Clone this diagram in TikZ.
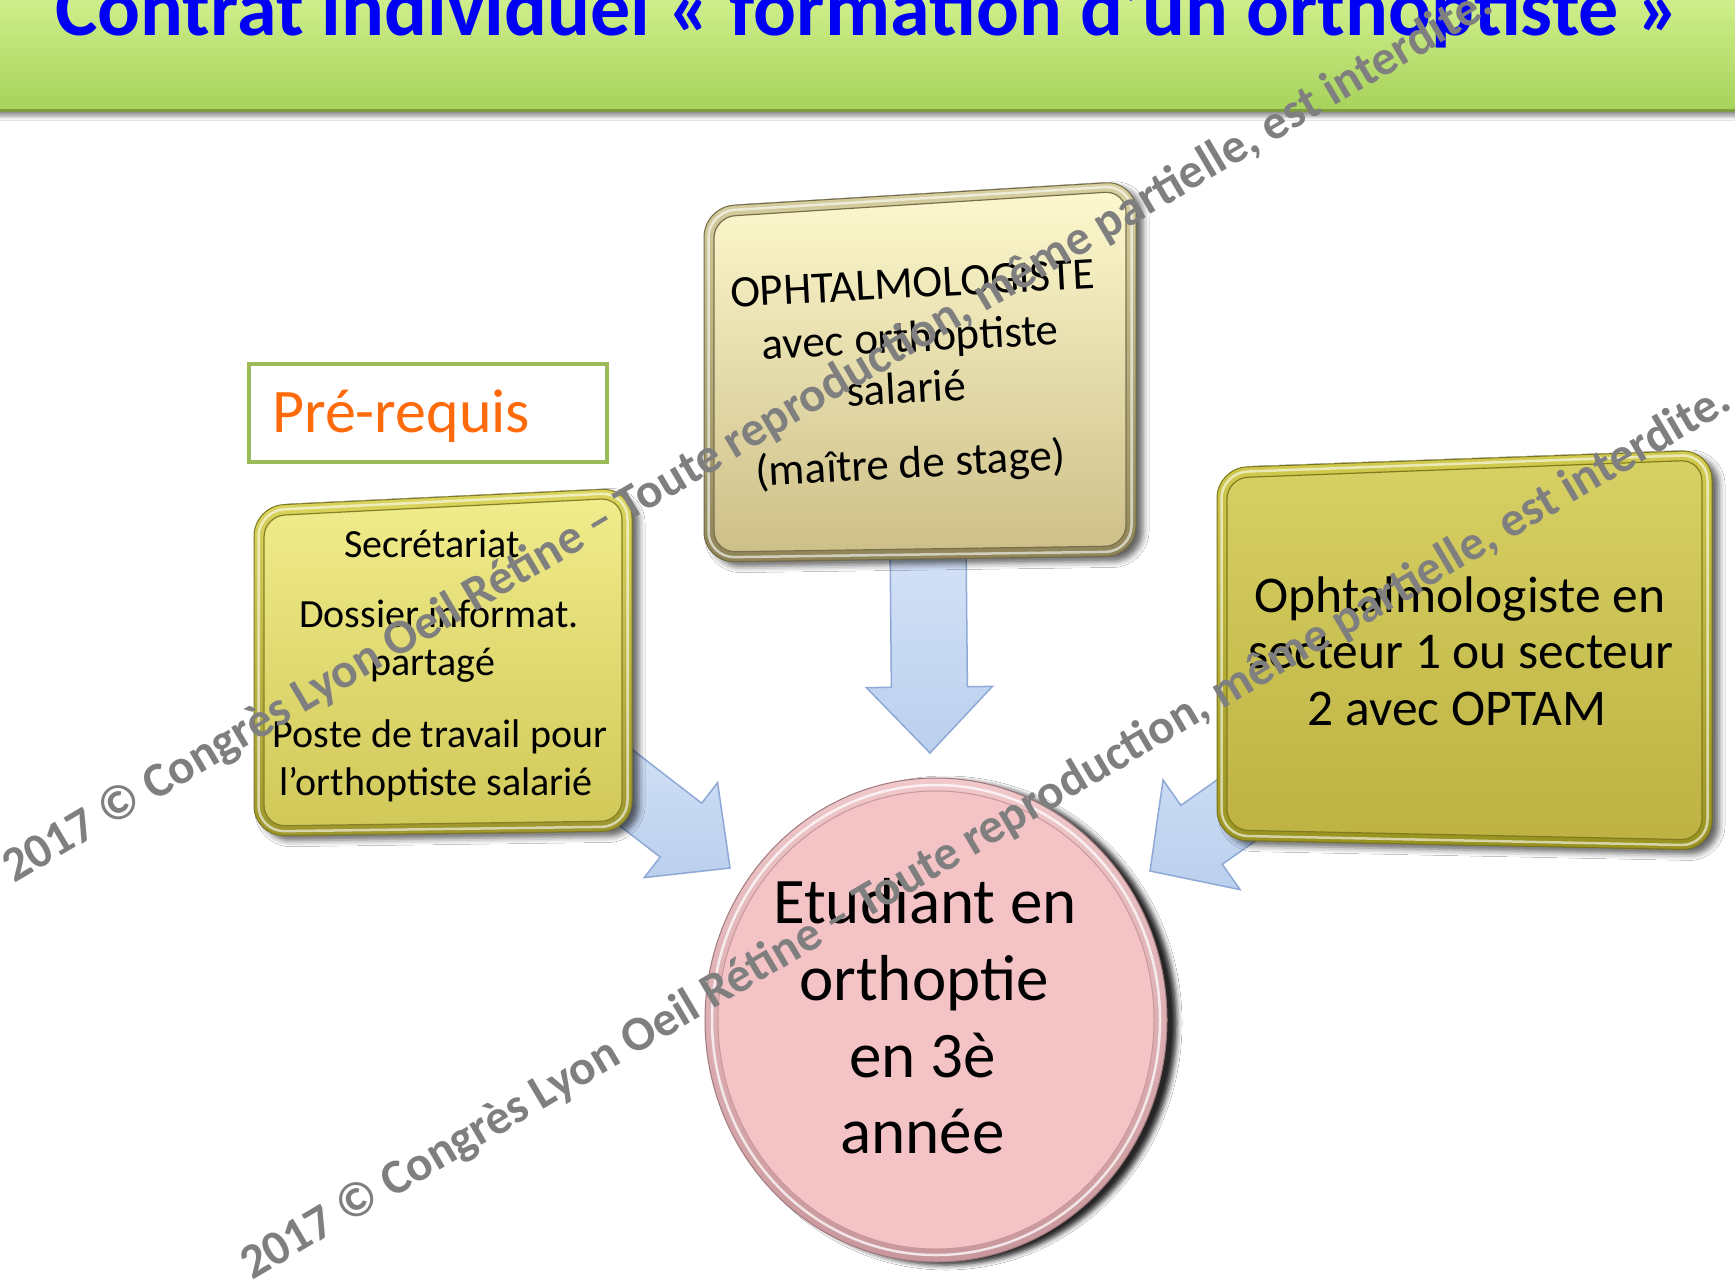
\documentclass[tikz,border=0pt]{standalone}
\usepackage{fontspec}
\setmainfont{Carlito}
\usetikzlibrary{calc,shadows.blur}
\definecolor{titleblue}{HTML}{0000F5}
\definecolor{bannertop}{HTML}{D6F394}
\definecolor{bannerbot}{HTML}{A6D25A}
\definecolor{bannerline}{HTML}{7E9D42}
\definecolor{preborder}{HTML}{9BBB59}
\definecolor{preorange}{HTML}{FF6A0A}
\definecolor{arrtop}{HTML}{D4E2F6}
\definecolor{arrbot}{HTML}{BBD0EE}
\definecolor{arredge}{HTML}{8EA9D6}
\definecolor{wmgray}{HTML}{7F7F7F}
\definecolor{lfA}{HTML}{DCD65E}
\definecolor{lfB}{HTML}{9C962C}
\definecolor{lfaceA}{HTML}{F1EC8C}
\definecolor{lfaceB}{HTML}{D0C858}
\definecolor{tfA}{HTML}{D8D0A0}
\definecolor{tfB}{HTML}{8E8458}
\definecolor{tfaceA}{HTML}{FDF8CE}
\definecolor{tfaceB}{HTML}{CDBF88}
\definecolor{rfA}{HTML}{D2CB50}
\definecolor{rfB}{HTML}{989220}
\definecolor{rfaceA}{HTML}{D7D064}
\definecolor{rfaceB}{HTML}{BDB242}
\definecolor{cirA}{HTML}{F0C8CA}
\definecolor{cirB}{HTML}{C9979B}
\definecolor{cirface}{HTML}{F4C3C5}

\newcommand\quadshape[4]{% #1 options, #2 prefix, #3 inset, #4 radius
  \path[#1, rounded corners=#4] ($(#2-tl)!.5!(#2-bl)+(#3,0)$) -- ($(#2-tl)+(#3,#3)$) -- ($(#2-tr)+(-#3,#3)$) -- ($(#2-br)+(-#3,-#3)$) -- ($(#2-bl)+(#3,-#3)$) -- cycle;}
\newcommand\bevel[5]{% prefix, frameA, frameB, faceA, faceB
  \quadshape{blur shadow={shadow xshift=7pt,shadow yshift=-5pt,shadow blur radius=6pt,shadow opacity=60}, top color=#2, bottom color=#3, draw=#3!80!black, line width=1pt}{#1}{0}{30}
  \quadshape{draw=white, draw opacity=.6, line width=2.5pt}{#1}{4.5}{26}
  \quadshape{top color=#4, bottom color=#5, draw=#3!85!black, line width=1.2pt}{#1}{10}{21}}
\newcommand\blockarrow[5]{% tail, tip, half shaft, half head, head length
  \coordinate (#1c) at ($(#2)!#5!(#1)$);
  \path[blockarrowstyle] ($(#1)!#3!90:(#2)$) -- ($(#1c)!#3!90:(#2)$) -- ($(#1c)!#4!90:(#2)$) -- (#2) -- ($(#1c)!#4!-90:(#2)$) -- ($(#1c)!#3!-90:(#2)$) -- ($(#1)!#3!-90:(#2)$) -- cycle;}

\tikzset{
  blockarrowstyle/.style={top color=arrtop, bottom color=arrbot, draw=arredge, line width=1.5pt, line join=miter},
  txt/.style={anchor=base, inner sep=0pt, text=black},
  lbtxt/.style={txt, font=\fontsize{40}{48}\selectfont},
  tbtxt/.style={txt, font=\fontsize{45}{54}\selectfont, rotate=3},
  rbtxt/.style={txt, font=\fontsize{51.5}{60}\selectfont},
  cirtxt/.style={txt, font=\fontsize{65}{78}\selectfont},
  wm/.style={anchor=base west, inner sep=0pt, text=wmgray, font=\bfseries\fontsize{49}{58}\selectfont, rotate=30.5}
}

\begin{document}
\begin{tikzpicture}[x=1pt,y=-1pt]
\useasboundingbox (0,0) rectangle (1735,1286);
\fill[white] (0,0) rectangle (1735,1286);

% banner
\path[blur shadow={shadow xshift=0pt,shadow yshift=-5pt,shadow blur radius=4pt,shadow opacity=45}, top color=bannertop, bottom color=bannerbot] (-10,-20) rectangle (1745,111);
\draw[bannerline, line width=3pt] (-10,110) -- (1745,110);
\node[anchor=base, inner sep=0pt, text=titleblue, font=\bfseries\fontsize{80}{96}\selectfont] (title) at (867.5,35) {Contrat individuel « formation d’un orthoptiste »};

% pre-requis
\node[draw=preborder, line width=4pt, fill=white, minimum width=358pt, minimum height=98pt, anchor=north west, inner sep=0pt] (prebox) at (247,362) {};
\node[anchor=base west, inner sep=0pt, text=preorange, font=\fontsize{62}{74}\selectfont] (pretxt) at (272,432) {Pré-requis};

% arrows
\coordinate (dA) at (928,540); \coordinate (dB) at (930,753);
\coordinate (lA) at (572,746); \coordinate (lB) at (730,868);
\coordinate (rA) at (1355,727); \coordinate (rB) at (1150,871);
\blockarrow{dA}{dB}{38pt}{63pt}{66pt}
\blockarrow{lA}{lB}{34pt}{60pt}{62pt}
\blockarrow{rA}{rB}{36pt}{67pt}{63pt}

% boxes
\coordinate (L-tl) at (254,506); \coordinate (L-tr) at (632,488);
\coordinate (L-br) at (632,831); \coordinate (L-bl) at (254,836);
\coordinate (T-tl) at (704,207); \coordinate (T-tr) at (1136,181);
\coordinate (T-br) at (1136,556); \coordinate (T-bl) at (704,562);
\coordinate (R-tl) at (1217,468); \coordinate (R-tr) at (1712,450);
\coordinate (R-br) at (1712,850); \coordinate (R-bl) at (1217,840);
\bevel{L}{lfA}{lfB}{lfaceA}{lfaceB}
\bevel{T}{tfA}{tfB}{tfaceA}{tfaceB}
\bevel{R}{rfA}{rfB}{rfaceA}{rfaceB}

% circle
\coordinate (stuC) at (936,1020);
\path[blur shadow={shadow xshift=10pt,shadow yshift=-3pt,shadow blur radius=5pt,shadow opacity=85}, top color=cirA, bottom color=cirB, draw=cirB!80!black, line width=1pt] (stuC) ellipse [x radius=231, y radius=242];
\draw[white, opacity=.75, line width=2.5pt] (stuC) ellipse [x radius=224, y radius=235];
\path[fill=cirface, draw=cirB, line width=1pt] (stuC) ellipse [x radius=218, y radius=229];

% texts
\node[lbtxt] (l1) at (432,557) {Secrétariat};
\node[lbtxt] (l2) at (439,627) {Dossier informat.};
\node[lbtxt] (l3) at (433,675) {partagé};
\node[lbtxt] (l4) at (440,747) {Poste de travail pour};
\node[lbtxt] (l5) at (436,795) {l’orthoptiste salarié};

\node[tbtxt] (t1) at (913,298) {OPHTALMOLOGISTE};
\node[tbtxt] (t2) at (911,352) {avec orthoptiste};
\node[tbtxt] (t3) at (907,403) {salarié};
\node[tbtxt] (t4) at (911,478) {(maître de stage)};

\node[rbtxt] (r1) at (1460,612) {Ophtalmologiste en};
\node[rbtxt] (r2) at (1461,668) {secteur 1 ou secteur};
\node[rbtxt] (r3) at (1457,725) {2 avec OPTAM};

\node[cirtxt] (c1) at (925,923) {Etudiant en};
\node[cirtxt] (c2) at (924,1000) {orthoptie};
\node[cirtxt] (c3) at (922.5,1077) {en 3è};
\node[cirtxt] (c4) at (922.5,1153) {année};

% watermark
\node[wm] (wm1) at (14,884) {2017 © Congrès Lyon Oeil Rétine – Toute reproduction, même partielle, est interdite.};
\node[wm] (wm2) at (252,1281) {2017 © Congrès Lyon Oeil Rétine – Toute reproduction, même partielle, est interdite.};
\end{tikzpicture}
\end{document}
